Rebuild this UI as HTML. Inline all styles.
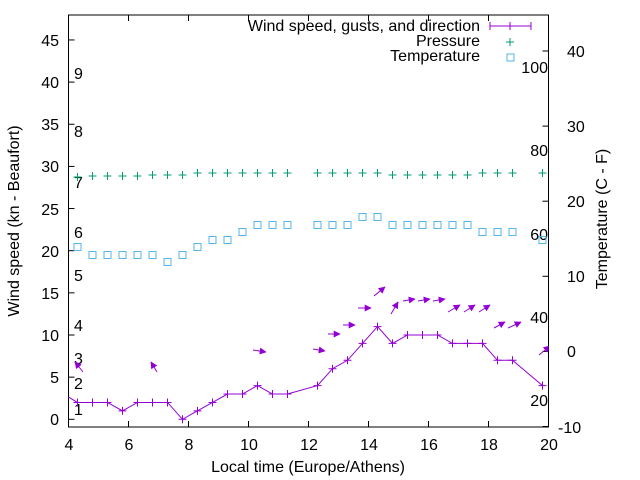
<!DOCTYPE html>
<html><head><meta charset="utf-8"><style>
html,body{margin:0;padding:0;background:#fff;width:640px;height:480px;overflow:hidden}
svg text{font-family:"Liberation Sans",sans-serif;font-size:16px;fill:#000}
</style></head><body>
<svg id="s" width="640" height="480" viewBox="0 0 640 480" xmlns="http://www.w3.org/2000/svg">
<defs>
<marker id="ah" viewBox="0 0 10 10" refX="9" refY="5" markerWidth="7" markerHeight="7" markerUnits="userSpaceOnUse" orient="auto"><path d="M0,0 L10,5 L0,10 z" fill="#9400d3"/></marker>
<clipPath id="cp"><rect x="68.5" y="15" width="480" height="412"/></clipPath>
</defs>
<g id="ticks" stroke="#000" stroke-width="1" fill="none"></g>
<rect x="68.5" y="15" width="480" height="412" fill="none" stroke="#000"/>
<g text-anchor="end">
<text x="59" y="425">0</text><text x="59" y="383">5</text><text x="59" y="341">10</text><text x="59" y="299">15</text><text x="59" y="257">20</text><text x="59" y="215">25</text><text x="59" y="172">30</text><text x="59" y="130">35</text><text x="59" y="88">40</text><text x="59" y="46">45</text>
</g>
<g text-anchor="start">
<text x="558" y="433">-10</text><text x="567" y="357">0</text><text x="567" y="282">10</text><text x="567" y="207">20</text><text x="567" y="132">30</text><text x="567" y="57">40</text>
</g>
<g text-anchor="middle">
<text x="69" y="450">4</text><text x="129" y="450">6</text><text x="189" y="450">8</text><text x="249" y="450">10</text><text x="309" y="450">12</text><text x="369" y="450">14</text><text x="429" y="450">16</text><text x="489" y="450">18</text><text x="549" y="450">20</text>
<text x="308" y="472">Local time (Europe/Athens)</text>
</g>
<text transform="translate(19,221) rotate(-90)" text-anchor="middle">Wind speed (kn - Beaufort)</text>
<text transform="translate(607,219) rotate(-90)" text-anchor="middle">Temperature (C - F)</text>
<g>
<text x="74" y="415">1</text><text x="74" y="389">2</text><text x="74" y="364">3</text><text x="74" y="331">4</text><text x="74" y="281">5</text><text x="74" y="238">6</text><text x="74" y="188">7</text><text x="74" y="137">8</text><text x="74" y="79">9</text>
</g>
<g text-anchor="end">
<text x="548" y="73">100</text><text x="548" y="156">80</text><text x="548" y="240">60</text><text x="548" y="323">40</text><text x="548" y="406">20</text>
</g>
<g text-anchor="end">
<text x="480" y="31">Wind speed, gusts, and direction</text>
<text x="480" y="46">Pressure</text>
<text x="480" y="61">Temperature</text>
</g>
<g stroke="#9400d3" stroke-width="1"><line x1="490" y1="26" x2="531" y2="26"/><line x1="490" y1="22" x2="490" y2="30"/><line x1="531" y1="22" x2="531" y2="30"/><line x1="510" y1="22" x2="510" y2="30"/></g>
<g stroke="#009e73" stroke-width="1"><line x1="506" y1="42" x2="514" y2="42"/><line x1="510" y1="38" x2="510" y2="46"/></g>
<rect x="507" y="54" width="7" height="7" fill="none" stroke="#56b4e9"/>
<g id="data" clip-path="url(#cp)"></g>
</svg>
<script>
var NS="http://www.w3.org/2000/svg";
function el(p,t,a){var e=document.createElementNS(NS,t);for(var k in a)e.setAttribute(k,a[k]);p.appendChild(e);return e;}
var T=document.getElementById('ticks'),D=document.getElementById('data');
for(var i=0;i<=45;i+=5){var y=419.3-8.43*i;el(T,'line',{x1:68.5,y1:y,x2:74.5,y2:y});}
for(var i=-10;i<=40;i+=10){var y=351.4-7.51*i;el(T,'line',{x1:548.5,y1:y,x2:542.5,y2:y});}
for(var h=4;h<=20;h+=2){var x=68.5+(h-4)*30;el(T,'line',{x1:x,y1:427,x2:x,y2:421});el(T,'line',{x1:x,y1:15,x2:x,y2:21});}
var hrs=[],w=[2,2,2,1,2,2,2,0,1,2,3,3,4,3,3,4,6,7,9,11,9,10,10,10,9,9,9,7,7,4];
var hx=[];for(var k=0;k<15;k++)hx.push(4.3+0.5*k);for(var k=0;k<14;k++)hx.push(12.3+0.5*k);hx.push(19.8);
function X(h){return 68.5+(h-4)*30;}
var pts="68.5,397 ";for(var k=0;k<hx.length;k++)pts+=X(hx[k])+","+(419.3-8.43*w[k])+" ";
el(D,'polyline',{points:pts,fill:'none',stroke:'#9400d3','stroke-width':1});
for(var k=0;k<hx.length;k++){var x=X(hx[k]),y=419.3-8.43*w[k];el(D,'path',{d:'M'+(x-4)+','+y+'h8M'+x+','+(y-4)+'v8',stroke:'#9400d3','stroke-width':1});}
var ty=[247,255,255,255,255,255,262,255,247,240,240,232,225,225,225,225,225,225,217,217,225,225,225,225,225,225,232,232,232,240];
var py=[177,176,176,176,176,175,175,175,173,173,173,173,173,173,173,173,173,173,173,173,175,175,175,175,175,175,173,173,173,173];
for(var k=0;k<hx.length;k++){var x=X(hx[k]);
el(D,'rect',{x:x-3.5,y:ty[k]-3.5,width:7,height:7,fill:'none',stroke:'#56b4e9','stroke-width':1});
el(D,'path',{d:'M'+(x-4)+','+py[k]+'h8M'+x+','+(py[k]-4)+'v8',stroke:'#009e73','stroke-width':1});}
var A=[[83,372,75,362],[157,372,151,362],[253,350,266,352],[313,349,325,351],[328,334,340,334],[343,325,355,325],[358,308,371,308],[374,296,385,287],[391,314,398,302],[403,301,415,299],[418,301,430,299],[433,301,445,299],[448,312,460,305],[464,312,475,305],[479,312,490,305],[494,328,505,322],[508,328,521,322],[539,355,550,346]];
A.forEach(function(a){el(D,'line',{x1:a[0],y1:a[1],x2:a[2],y2:a[3],stroke:'#9400d3','stroke-width':1,'marker-end':'url(#ah)'});});
</script>
</body></html>
